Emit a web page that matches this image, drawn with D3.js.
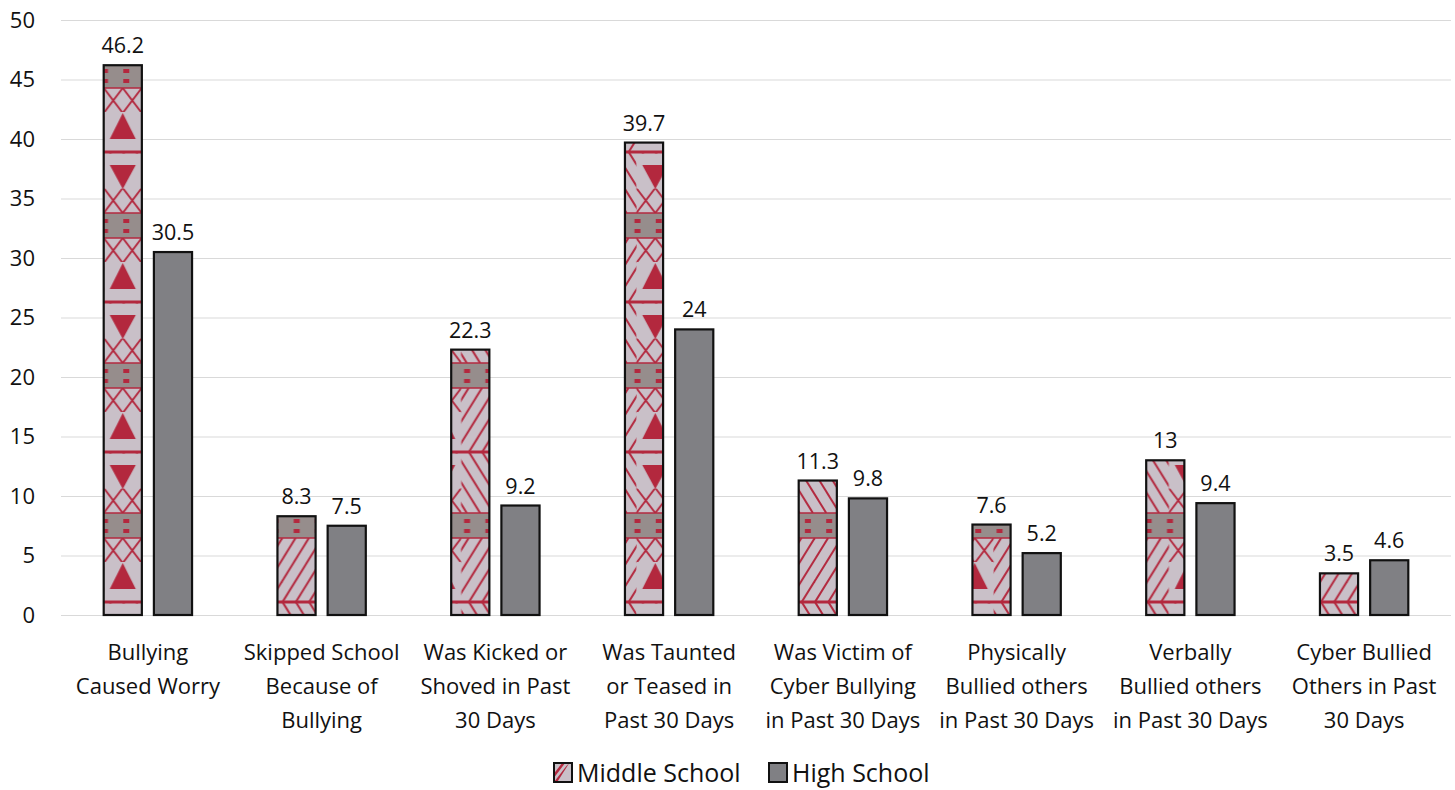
<!DOCTYPE html>
<html><head><meta charset="utf-8">
<script src="https://cdn.jsdelivr.net/npm/d3@7"></script>
<style>body{margin:0;background:#fff}svg{display:block}text{font-family:"Open Sans",sans-serif;fill:#111}</style>
</head><body><svg id="c" width="1455" height="790"></svg>
<script>
const categories = [
  ["Bullying","Caused Worry"],
  ["Skipped School","Because of","Bullying"],
  ["Was Kicked or","Shoved in Past","30 Days"],
  ["Was Taunted","or Teased in","Past 30 Days"],
  ["Was Victim of","Cyber Bullying","in Past 30 Days"],
  ["Physically","Bullied others","in Past 30 Days"],
  ["Verbally","Bullied others","in Past 30 Days"],
  ["Cyber Bullied","Others in Past","30 Days"]
];
const middleSchool = [46.2, 8.3, 22.3, 39.7, 11.3, 7.6, 13, 3.5];
const highSchool = [30.5, 7.5, 9.2, 24, 9.8, 5.2, 9.4, 4.6];
const seriesNames = ["Middle School", "High School"];
const yTicks = [0,5,10,15,20,25,30,35,40,45,50];

const svg = d3.select("#c");
const x0 = d3.scaleBand().domain(d3.range(categories.length)).range([61, 1451]).paddingInner(0.48).paddingOuter(0.24);
const x1 = d3.scaleBand().domain([0,1]).range([0, x0.bandwidth()]).paddingInner(0.2);
const y = d3.scaleLinear().domain([0,50]).range([615, 20]);

const RED = "#b3283e", LIGHT = "#c9c0c8", BAND = "#968d8c", HS = "#808084";

// ---- pattern ----
const PW = 106.5, PH = 150, cx = PW/2;
const defs = svg.append("defs");
const pat = defs.append("pattern").attr("id","ms").attr("patternUnits","userSpaceOnUse")
  .attr("width", PW).attr("height", PH)
  .attr("x", x0(0) + x1(0) + x1.bandwidth()/2 - cx)
  .attr("y", y(0) - 13 - PH);
defs.append("clipPath").attr("id","col").append("rect").attr("x", cx-19).attr("y",0).attr("width",38).attr("height",PH);
pat.append("rect").attr("width",PW).attr("height",PH).attr("fill",LIGHT);
const step = PW/8, k = 0.62;
for (let i=-12;i<=18;i++){
  const xs = i*step;
  pat.append("line").attr("x1",xs).attr("y1",PH).attr("x2",xs+k*64).attr("y2",86).attr("stroke",RED).attr("stroke-width",2);
  pat.append("line").attr("x1",xs).attr("y1",0).attr("x2",xs+k*61).attr("y2",61).attr("stroke",RED).attr("stroke-width",2);
}
const colG = pat.append("g").attr("clip-path","url(#col)");
colG.append("rect").attr("x",cx-19).attr("y",86).attr("width",38).attr("height",25).attr("fill",LIGHT);
colG.append("rect").attr("x",cx-19).attr("y",36).attr("width",38).attr("height",25).attr("fill",LIGHT);
[[86,111],[36,61]].forEach(([a,b])=>{
  colG.append("line").attr("x1",cx-19).attr("y1",a).attr("x2",cx).attr("y2",b).attr("stroke",RED).attr("stroke-width",2);
  colG.append("line").attr("x1",cx+19).attr("y1",a).attr("x2",cx).attr("y2",b).attr("stroke",RED).attr("stroke-width",2);
  colG.append("line").attr("x1",cx-19).attr("y1",b).attr("x2",cx).attr("y2",a).attr("stroke",RED).attr("stroke-width",2);
  colG.append("line").attr("x1",cx+19).attr("y1",b).attr("x2",cx).attr("y2",a).attr("stroke",RED).attr("stroke-width",2);
});
pat.append("rect").attr("x",cx-19).attr("y",110).attr("width",38).attr("height",39).attr("fill",LIGHT);
pat.append("rect").attr("x",cx-19).attr("y",1.5).attr("width",38).attr("height",35).attr("fill",LIGHT);
pat.append("path").attr("d",`M${cx-13},137L${cx+13},137L${cx},111Z`).attr("fill",RED);
pat.append("path").attr("d",`M${cx-13},13L${cx+13},13L${cx},37Z`).attr("fill",RED);
pat.append("rect").attr("x",0).attr("y",61).attr("width",PW).attr("height",25).attr("fill",BAND);
pat.append("line").attr("x1",0).attr("x2",PW).attr("y1",61).attr("y2",61).attr("stroke",RED).attr("stroke-width",1.5);
pat.append("line").attr("x1",0).attr("x2",PW).attr("y1",86).attr("y2",86).attr("stroke",RED).attr("stroke-width",1.5);
for (let j=-3;j<=3;j++){
  const dx = cx + 3.5 + j*PW/5;
  pat.append("rect").attr("x",dx-3).attr("y",67).attr("width",6).attr("height",4).attr("fill",RED);
  pat.append("rect").attr("x",dx-3).attr("y",77).attr("width",6).attr("height",4).attr("fill",RED);
}
pat.append("line").attr("x1",0).attr("x2",PW).attr("y1",0).attr("y2",0).attr("stroke",RED).attr("stroke-width",3);
pat.append("line").attr("x1",0).attr("x2",PW).attr("y1",PH).attr("y2",PH).attr("stroke",RED).attr("stroke-width",3);

const lp = defs.append("pattern").attr("id","msLeg").attr("patternUnits","objectBoundingBox").attr("width",1).attr("height",1)
  .attr("patternContentUnits","objectBoundingBox");
lp.append("rect").attr("width",1).attr("height",1).attr("fill",LIGHT);
lp.append("path").attr("d","M0,0.55L0.45,0L0.62,0L0,0.78Z").attr("fill",RED);
lp.append("path").attr("d","M0,1L0.7,0.15L0.85,0L0.18,1Z").attr("fill",RED);

// ---- grid ----
svg.append("g").selectAll("line").data(yTicks).join("line")
  .attr("x1",61).attr("x2",1451).attr("y1",d=>y(d)+0.5).attr("y2",d=>y(d)+0.5)
  .attr("stroke","#d9d9d9").attr("stroke-width",1);
svg.append("g").selectAll("text").data(yTicks).join("text")
  .attr("x",35).attr("y",d=>y(d)).attr("dy","0.35em").attr("text-anchor","end")
  .attr("font-size",22).text(d=>d);

// ---- bars ----
const series = [middleSchool, highSchool];
series.forEach((vals, s) => {
  const g = svg.append("g");
  g.selectAll("rect").data(vals).join("rect")
    .attr("x",(d,i)=>x0(i)+x1(s)+1)
    .attr("y",d=>y(d))
    .attr("width",x1.bandwidth()-2)
    .attr("height",d=>y(0)-y(d))
    .attr("fill", s===0 ? "url(#ms)" : HS)
    .attr("stroke","#111").attr("stroke-width",2.2);
  g.selectAll("text").data(vals).join("text")
    .attr("x",(d,i)=>x0(i)+x1(s)+x1.bandwidth()/2)
    .attr("y",d=>y(d)-12)
    .attr("text-anchor","middle").attr("font-size",21.5).text(d=>d);
});

// ---- category labels ----
const cg = svg.append("g");
categories.forEach((lines,i)=>{
  const cxl = x0(i)+x0.bandwidth()/2;
  const t = cg.append("text").attr("text-anchor","middle").attr("font-size",22)
    .attr("x", cxl).attr("y", 660);
  lines.forEach((l,j)=>t.append("tspan").attr("x",cxl).attr("dy", j===0?0:34).text(l));
});

// ---- legend ----
const leg = svg.append("g");
const legX = [553, 768];
seriesNames.forEach((n,i)=>{
  leg.append("rect").attr("x",legX[i]+1).attr("y",763).attr("width",18).attr("height",19)
    .attr("fill", i===0 ? "url(#msLeg)" : HS).attr("stroke","#111").attr("stroke-width",2);
  leg.append("text").attr("x",legX[i]+24).attr("y",773).attr("dy","0.35em").attr("font-size",25).text(n);
});
</script></body></html>
